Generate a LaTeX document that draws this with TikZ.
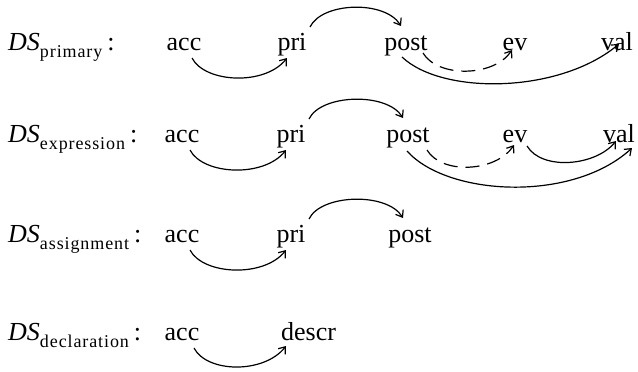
\documentclass[tikz,border=0pt]{standalone}
\usepackage{fontspec}
\setmainfont{Liberation Serif}
\usetikzlibrary{arrows.meta}
\newcommand{\dsl}[1]{\textit{DS}\raisebox{-7pt}{\fontsize{18}{18}\selectfont\addfontfeatures{LetterSpace=5}#1}\hspace{5pt}:}
\begin{document}
\begin{tikzpicture}[x=1pt,y=-1pt,
  every node/.style={inner sep=0pt,font=\fontsize{26}{30}\selectfont},
  wd/.style={anchor=base},
  lab/.style={anchor=base west},
  arr/.style={line width=1.2pt,-{Straight Barb[length=6pt,width=9pt]}},
  dsh/.style={arr,dash pattern=on 14pt off 8pt}]
\useasboundingbox (0,0) rectangle (638,372);
% row 1
\node[lab] (l1) at (8,50) {\dsl{primary}};
\node[wd] (a1) at (184,50) {acc};
\node[wd] (p1) at (292,50) {pri};
\node[wd] (o1) at (406,50) {post};
\node[wd] (e1) at (515,50) {ev};
\node[wd] (v1) at (617,50) {val};
% row 2
\node[lab] (l2) at (8,142) {\dsl{expression}};
\node[wd] (a2) at (182,142) {acc};
\node[wd] (p2) at (291,142) {pri};
\node[wd] (o2) at (408,142) {post};
\node[wd] (e2) at (515,142) {ev};
\node[wd] (v2) at (619,142) {val};
% row 3
\node[lab] (l3) at (8,242) {\dsl{assignment}};
\node[wd] (a3) at (182,242) {acc};
\node[wd] (p3) at (291,242) {pri};
\node[wd] (o3) at (410,242) {post};
% row 4
\node[lab] (l4) at (8,340) {\dsl{declaration}};
\node[wd] (a4) at (182,340) {acc};
\node[anchor=base west] (d4) at (281,340) {descr};
% arrows row 1
\draw[arr] ([shift={(8,8)}]a1.base) .. controls +(13,25) and +(-22,28) .. ([shift={(-5,8)}]p1.base);
\draw[arr] ([shift={(18,-23)}]p1.base) .. controls +(12,-25) and +(-16,-26) .. ([shift={(-5,-24)}]o1.base);
\draw[dsh] ([shift={(17,3)}]o1.base) .. controls +(15,25) and +(-18,27) .. ([shift={(-3,0)}]e1.base);
\draw[arr] ([shift={(-4,7)}]o1.base) .. controls +(40,38) and +(-60,50) .. ([shift={(2,-6)}]v1.base);
% arrows row 2
\draw[arr] ([shift={(8,8)}]a2.base) .. controls +(13,25) and +(-22,28) .. ([shift={(-5,8)}]p2.base);
\draw[arr] ([shift={(18,-23)}]p2.base) .. controls +(12,-25) and +(-16,-26) .. ([shift={(-5,-24)}]o2.base);
\draw[dsh] ([shift={(19,8)}]o2.base) .. controls +(15,25) and +(-18,27) .. ([shift={(-1,3)}]e2.base);
\draw[arr] ([shift={(12,4)}]e2.base) .. controls +(15,25) and +(-20,25) .. ([shift={(-3,-1)}]v2.base);
\draw[arr] ([shift={(-1,9)}]o2.base) .. controls +(40,45) and +(-60,55) .. ([shift={(13,6)}]v2.base);
% arrows row 3
\draw[arr] ([shift={(8,8)}]a3.base) .. controls +(13,25) and +(-22,28) .. ([shift={(-5,8)}]p3.base);
\draw[arr] ([shift={(18,-23)}]p3.base) .. controls +(12,-25) and +(-16,-26) .. ([shift={(-7,-24)}]o3.base);
% arrows row 4
\draw[arr] ([shift={(12,8)}]a4.base) .. controls +(13,25) and +(-22,28) .. ([shift={(5,6)}]d4.base west);
\end{tikzpicture}
\end{document}
